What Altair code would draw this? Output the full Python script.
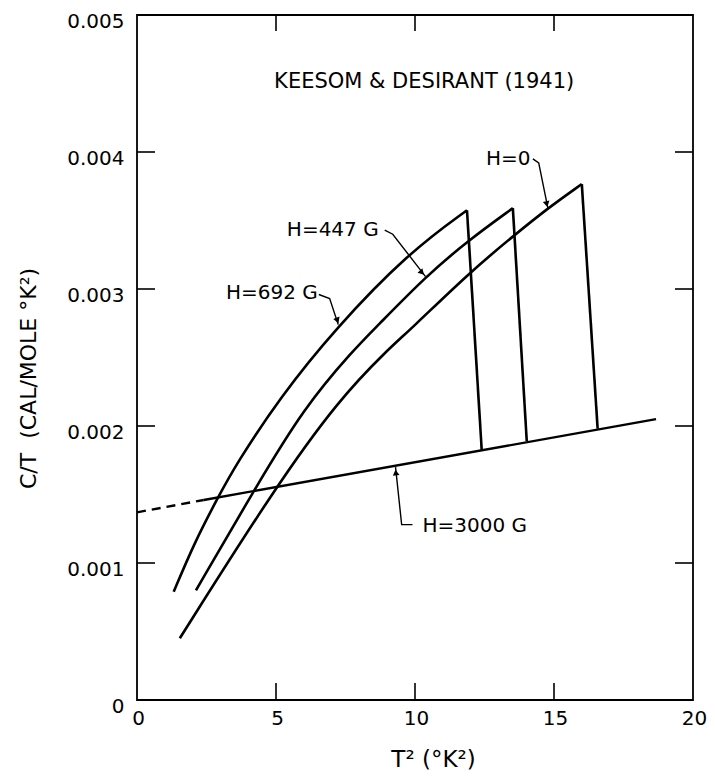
import altair as alt
import pandas as pd

# ---- curves: x = T^2 (K^2), y = C/T (cal/mole K^2) ----
h0_x = [1.54, 4.98, 7.25, 9.02, 9.82, 11.94, 13.58, 14.78, 16.0]
h0_y = [0.000451, 0.001555, 0.00219, 0.002558, 0.00270, 0.003117, 0.003394, 0.00359, 0.003766]
h447_x = [2.12, 4.15, 6.0, 7.83, 8.55, 10.38, 11.89, 13.52]
h447_y = [0.00080, 0.00151, 0.002134, 0.002564, 0.00271, 0.00309, 0.00335, 0.00359]
h692_x = [1.32, 2.07, 2.89, 3.56, 5.15, 7.13, 9.80, 11.87]
h692_y = [0.00079, 0.00115, 0.00147, 0.00172, 0.00221, 0.00271, 0.00327, 0.003575]

# transition drops (peak -> normal state line)
drop_series = ["H=0", "H=0", "H=447 G", "H=447 G", "H=692 G", "H=692 G"]
drop_x = [16.0, 16.57, 13.52, 14.02, 11.87, 12.40]
drop_y = [0.003766, 0.00198, 0.00359, 0.00189, 0.003575, 0.001824]

# H = 3000 G normal-state line (dashed extrapolation, then solid)
h3000_dash_x = [0.0, 2.4]
h3000_dash_y = [0.00137, 0.00146]
h3000_x = [2.4, 18.67]
h3000_y = [0.00146, 0.00205]

# axes
x_label_values = [0, 5, 10, 15, 20]
y_label_values = [0, 0.001, 0.002, 0.003, 0.004, 0.005]
x_inner_ticks = [5, 10, 15]
y_inner_ticks = [0.001, 0.002, 0.003, 0.004]

# annotations
ann_text = ["H=0", "H=447 G", "H=692 G", "H=3000 G"]
ann_x = [12.55, 5.39, 3.2, 10.27]
ann_y = [0.00395, 0.00343, 0.00297, 0.00127]

title_text = ["KEESOM & DESIRANT (1941)"]
title_x = [10.33]
title_y = [0.00451]

leader_id = ["a", "a", "a", "b", "b", "b", "c", "c", "c", "d", "d", "d"]
leader_i = [0, 1, 2, 0, 1, 2, 0, 1, 2, 0, 1, 2]
leader_x = [14.24, 14.45, 14.78, 8.91, 9.2, 10.38, 6.54, 6.93, 7.24, 9.91, 9.52, 9.30]
leader_y = [0.00395, 0.00392, 0.00359, 0.00343, 0.00340, 0.00309,
            0.00296, 0.00293, 0.00274, 0.00128, 0.00128, 0.00170]

arrow_x = [14.74, 10.25, 7.21, 9.31]
arrow_y = [0.00362, 0.00312, 0.00277, 0.00166]
arrow_angle = [347, 317, 339, 173]

FONT = "DejaVu Sans"
W, H = 556, 685
NB = "\u00a0"

xs = alt.Scale(domain=[0, 20], nice=False, zero=False)
ys = alt.Scale(domain=[0, 0.005], nice=False, zero=False)

curves = pd.DataFrame(
    {"x": h0_x + h447_x + h692_x,
     "y": h0_y + h447_y + h692_y,
     "s": ["H=0"] * len(h0_x) + ["H=447 G"] * len(h447_x) + ["H=692 G"] * len(h692_x)}
)
drops = pd.DataFrame({"x": drop_x, "y": drop_y, "s": drop_series})
base_solid = pd.DataFrame({"x": h3000_x, "y": h3000_y})
base_dash = pd.DataFrame({"x": h3000_dash_x, "y": h3000_dash_y})

x_axis = alt.Axis(
    values=x_label_values, grid=False, ticks=False, domain=False,
    labelFont=FONT, labelFontSize=20, labelColor="black", labelPadding=8,
    labelOffset=1,
    labelFlush=False, labelOverlap=False,
    title="T² (°K²)", titleFont=FONT, titleFontSize=23, titleFontWeight="normal",
    titleColor="black", titleX=296, titleY=59, titleAlign="center", titleBaseline="middle",
)
y_axis = alt.Axis(
    values=y_label_values, grid=False, ticks=False, domain=False,
    labelFont=FONT, labelFontSize=20, labelColor="black", labelPadding=13,
    labelOffset=6,
    labelFlush=False, labelOverlap=False,
    labelExpr="datum.value == 0 ? '0' : format(datum.value, '.3f')",
    title=f"C/T{NB}{NB}(CAL/MOLE °K²)", titleFont=FONT, titleFontSize=22,
    titleFontWeight="normal",
    titleColor="black", titleX=-109, titleY=363, titleAngle=270,
    titleAlign="center", titleBaseline="middle",
)
xn = alt.X("x:Q", scale=xs, axis=x_axis)
yn = alt.Y("y:Q", scale=ys, axis=y_axis)

curve_layer = alt.Chart(curves).mark_line(
    color="black", strokeWidth=2.6, interpolate="basis"
).encode(x=xn, y=yn, detail="s:N")

drop_layer = alt.Chart(drops).mark_line(color="black", strokeWidth=2.6).encode(
    x=xn, y=yn, detail="s:N"
)

base_layer = alt.Chart(base_solid).mark_line(color="black", strokeWidth=2.4).encode(x=xn, y=yn)
dash_layer = alt.Chart(base_dash).mark_line(
    color="black", strokeWidth=2.4, strokeDash=[9, 6]
).encode(x=xn, y=yn)

# inward ticks
ytick_df = pd.DataFrame({"y": y_inner_ticks})
xtick_df = pd.DataFrame({"x": x_inner_ticks})
left_ticks = alt.Chart(ytick_df).mark_rule(color="black", strokeWidth=1.6).encode(
    y=yn, x=alt.value(0), x2=alt.value(18)
)
right_ticks = alt.Chart(ytick_df).mark_rule(color="black", strokeWidth=1.6).encode(
    y=yn, x=alt.value(W - 18), x2=alt.value(W)
)
bottom_ticks = alt.Chart(xtick_df).mark_rule(color="black", strokeWidth=1.6).encode(
    x=xn, y=alt.value(H - 17), y2=alt.value(H)
)
top_ticks = alt.Chart(xtick_df).mark_rule(color="black", strokeWidth=1.6).encode(
    x=xn, y=alt.value(0), y2=alt.value(16)
)

ann_df = pd.DataFrame({"x": ann_x, "y": ann_y, "t": ann_text})
ann_layer = alt.Chart(ann_df).mark_text(
    font=FONT, fontSize=20, align="left", baseline="middle", color="black"
).encode(x=xn, y=yn, text="t:N")

title_df = pd.DataFrame({"x": title_x, "y": title_y, "t": title_text})
title_layer = alt.Chart(title_df).mark_text(
    font=FONT, fontSize=21, align="center", baseline="middle", color="black"
).encode(x=xn, y=yn, text="t:N")

leader_df = pd.DataFrame({"x": leader_x, "y": leader_y, "id": leader_id, "i": leader_i})
leader_layer = alt.Chart(leader_df).mark_line(color="black", strokeWidth=1.4).encode(
    x=xn, y=yn, detail="id:N", order=alt.Order("i:Q")
)

arrow_df = pd.DataFrame({"x": arrow_x, "y": arrow_y, "a": arrow_angle})
arrow_layer = alt.Chart(arrow_df).mark_point(
    shape="triangle-down", filled=True, color="black", size=45, opacity=1
).encode(x=xn, y=yn, angle=alt.Angle("a:Q", scale=None))

chart = alt.layer(
    curve_layer, drop_layer, base_layer, dash_layer,
    left_ticks, right_ticks, bottom_ticks, top_ticks,
    leader_layer, arrow_layer, ann_layer, title_layer,
).properties(
    width=W, height=H,
    autosize=alt.AutoSizeParams(type="none"),
    padding={"left": 129, "top": 7, "right": 14, "bottom": 70},
    background="white",
).configure_view(stroke="black", strokeWidth=1.8)

chart.save("out.html", embed_options={"renderer": "svg", "actions": False})
